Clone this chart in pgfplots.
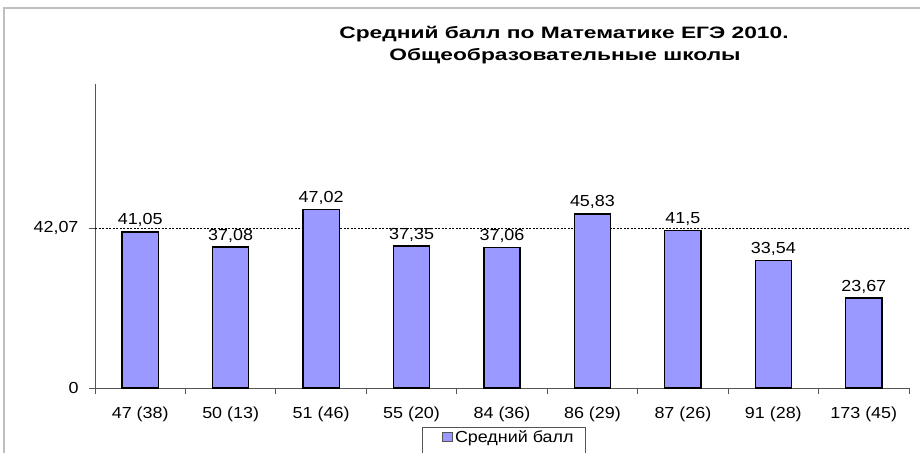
\documentclass[border=0pt]{standalone}
\usepackage{fontspec}
\setmainfont{Liberation Sans}[FakeStretch=1.12]
\newfontfamily\titlefont{Liberation Sans}[FakeStretch=1.38]
\usepackage{pgfplots}
\pgfplotsset{compat=1.18}
\definecolor{barcol}{HTML}{9999FF}
\definecolor{axcol}{HTML}{555555}
\pgfplotstableread{
x    y      lab
0.5  41.05  41,05
1.5  37.08  37,08
2.5  47.02  47,02
3.5  37.35  37,35
4.5  37.06  37,06
5.5  45.83  45,83
6.5  41.5   41,5
7.5  33.54  33,54
8.5  23.67  23,67
}\datatable
\begin{document}
\begin{tikzpicture}
\draw[black!25, line width=1.5pt] (4pt,-470pt) -- (4pt,-8pt) -- (940pt,-8pt);
\node[font=\titlefont\bfseries\fontsize{16.5}{20}\selectfont, anchor=base] at (564pt,-38pt) {Средний балл по Математике ЕГЭ 2010.};
\node[font=\titlefont\bfseries\fontsize{16.5}{20}\selectfont, anchor=base] at (565pt,-60pt) {Общеобразовательные школы};
\begin{axis}[
  at={(95pt,-388pt)}, anchor=south west,
  scale only axis, width=814pt, height=304pt,
  xmin=0, xmax=9, ymin=0, ymax=80,
  axis lines=left,
  axis line style={-, draw=axcol, line width=1pt},
  tick style={draw=axcol, line width=1pt},
  tick align=outside,
  major tick length=6pt, minor tick length=6pt,
  xtick={0.5,1.5,2.5,3.5,4.5,5.5,6.5,7.5,8.5},
  xticklabels={47 (38),50 (13),51 (46),55 (20),84 (36),86 (29),87 (26),91 (28),173 (45)},
  major x tick style={draw=none},
  minor xtick={0,1,2,3,4,5,6,7,8,9},
  ytick={0,42.07},
  yticklabels={0,{42,07}},
  /pgf/number format/assume math mode=true,
  ticklabel style={font=\fontsize{16}{19}\selectfont, text=black},
  yticklabel style={xshift=-7pt},
  xticklabel style={yshift=-9pt},
  clip=false,
  legend style={draw=none, fill=none, at={(0.4263,-0.1612)}, anchor=west, inner sep=0pt,
    font=\fontsize{16}{19}\selectfont, /tikz/every odd column/.append style={column sep=0pt}},
  legend image code/.code={\draw[fill=barcol, draw=axcol, line width=0.8pt] (0pt,-4.5pt) rectangle (10pt,4.5pt);},
]
\addplot[black, line width=0.6pt, dash pattern=on 2pt off 1.5pt, forget plot] coordinates {(0,42.07) (9,42.07)};
\addplot[ybar, bar width=0.4, fill=barcol, draw=black, line width=1.3pt,
  point meta=explicit symbolic, nodes near coords,
  every node near coord/.append style={font=\fontsize{16}{19}\selectfont, text=black, yshift=1pt}]
  table[x=x, y=y, meta=lab] {\datatable};
\addlegendentry{Средний балл}
\end{axis}
\draw[axcol, line width=1pt] (422pt,-470pt) -- (422pt,-427pt) -- (585pt,-427pt) -- (585pt,-470pt);
\pgfresetboundingbox
\path[use as bounding box] (0pt,0pt) rectangle (920pt,-452pt);
\end{tikzpicture}
\end{document}
